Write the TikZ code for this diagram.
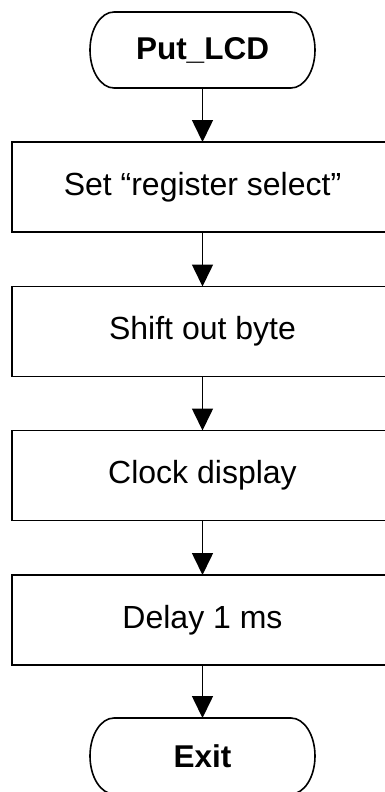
\documentclass[tikz,border=0pt]{standalone}
\usepackage{fontspec}
\setmainfont{Liberation Sans}
\usetikzlibrary{arrows.meta}
\begin{document}
\begin{tikzpicture}[x=1pt,y=1pt,
  line width=1.6pt,
  stepbox/.style={draw, rectangle, minimum width=381pt, minimum height=90pt,
    inner sep=0pt, outer sep=0pt, font=\fontsize{32}{36}\selectfont},
  term/.style={rectangle, minimum width=225pt, minimum height=76pt,
    inner sep=0pt, outer sep=0pt, font=\fontsize{31.5}{35}\selectfont\bfseries},
  flow/.style={-{Triangle[width=21pt,length=22pt]}},
]
\useasboundingbox (0,0) rectangle (385,-792);
\clip (0,0) rectangle (385,-792);

% terminators and process steps
\node[term] (start) at (202.5,-50) {Put\_LCD};
\node[stepbox] (s1) at (202.5,-187) {Set “register select”};
\node[stepbox] (s2) at (202.5,-331.5) {Shift out byte};
\node[stepbox] (s3) at (202.5,-475.5) {Clock display};
\node[stepbox] (s4) at (202.5,-620) {Delay 1 ms};
\node[term] (stop) at (202.5,-756) {Exit};

% terminator outlines with elliptical ends
\foreach \t in {start,stop}{
  \draw ([xshift=24pt]\t.north west) -- ([xshift=-24pt]\t.north east)
    arc[start angle=90, end angle=-90, x radius=24pt, y radius=38pt]
    -- ([xshift=24pt]\t.south west)
    arc[start angle=270, end angle=90, x radius=24pt, y radius=38pt] -- cycle;
}

% connectors
\draw[flow] (start) -- (s1);
\draw[flow] (s1) -- (s2);
\draw[flow] (s2) -- (s3);
\draw[flow] (s3) -- (s4);
\draw[flow] (s4) -- (stop);
\end{tikzpicture}
\end{document}
